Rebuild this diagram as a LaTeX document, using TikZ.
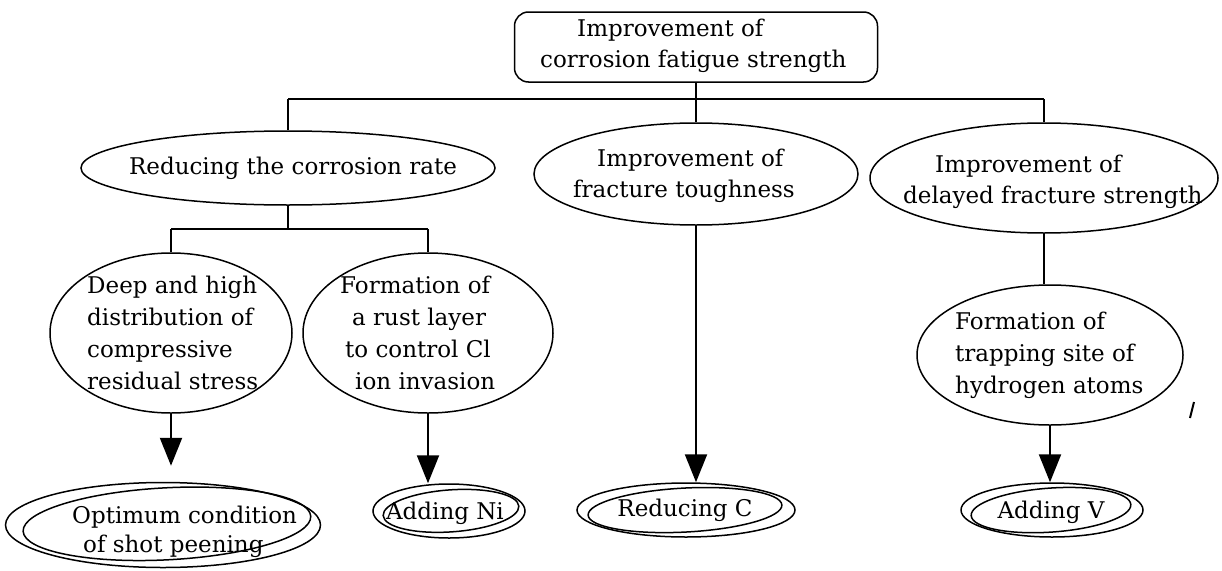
\documentclass[tikz,border=0pt]{standalone}
\usepackage{fontspec}
\setmainfont{DejaVu Serif}
\usetikzlibrary{arrows.meta,shapes.geometric,calc}
\newcommand\myinnerell[5]{%
  \draw[ln, rotate around={#5:(#1.center)}] ($(#1.center)+(#2)$) ellipse [x radius=#3pt, y radius=#4pt];}
\begin{document}
\begin{tikzpicture}[x=1pt,y=-1pt,
  every node/.style={font=\fontsize{23}{31}\selectfont},
  ln/.style={line width=1.5pt},
  ell/.style={draw, ellipse, line width=1.5pt, inner sep=0pt},
  txt/.style={inner sep=0pt, align=left, anchor=west},
  ctxt/.style={inner sep=0pt, align=center},
  conn/.style={line width=1.8pt},
  barline/.style={line width=2.5pt},
  arr/.style={line width=2.2pt, -{Triangle[length=28pt,width=22pt]}},
]
\useasboundingbox (0,0) rectangle (1222,570);

% top box
\node[draw, rounded corners=14pt, line width=1.5pt, minimum width=363pt, minimum height=70pt, inner sep=0pt] (T) at (696,47) {};
\node[txt] (Tt) at (540,46) {\hspace*{37pt}Improvement of\\corrosion fatigue strength};

% level 1
\node[ell, minimum width=414pt, minimum height=74pt] (A) at (288,168) {};
\node[ctxt] (At) at (293,168) {Reducing the corrosion rate};
\node[ell, minimum width=324pt, minimum height=102pt] (B) at (696,174) {};
\node[txt] (Bt) at (573,176) {\hspace*{24pt}Improvement of\\fracture toughness};
\node[ell, minimum width=348pt, minimum height=110pt] (C) at (1044,178) {};
\node[txt] (Ct) at (903,182) {\hspace*{32pt}Improvement of\\delayed fracture strength};

% level 2
\node[ell, minimum width=242pt, minimum height=160pt] (D) at (171,333) {};
\node[txt, font=\fontsize{23}{32}\selectfont] (Dt) at (87,333) {Deep and high\\distribution of\\compressive\\residual stress};
\node[ell, minimum width=250pt, minimum height=160pt] (E) at (428,333) {};
\node[txt, font=\fontsize{23}{32}\selectfont] (Et) at (340,333) {Formation of\\\hspace*{12pt}a rust layer\\\hspace*{5pt}to control Cl\\\hspace*{15pt}ion invasion};
\node[ell, minimum width=266pt, minimum height=140pt] (I) at (1050,355) {};
\node[txt, font=\fontsize{23}{32}\selectfont] (It) at (955,355) {Formation of\\trapping site of\\hydrogen atoms};

% bottom row (double ellipses)
\node[ell, minimum width=315pt, minimum height=85pt] (F) at (163,525) {};
\myinnerell{F}{4,-1}{144}{36}{3}
\node[txt, font=\fontsize{23}{29}\selectfont] (Ft) at (72,532) {Optimum condition\\\hspace*{11pt}of shot peening};
\node[ell, minimum width=152pt, minimum height=54pt] (G) at (449,511) {};
\myinnerell{G}{2,0}{68}{21}{4}
\node[ctxt] (Gt) at (445,513) {Adding Ni};
\node[ell, minimum width=218pt, minimum height=54pt] (H) at (686,510) {};
\myinnerell{H}{-1,0}{97}{22}{3}
\node[ctxt] (Ht) at (685,510) {Reducing C};
\node[ell, minimum width=182pt, minimum height=54pt] (J) at (1052,510) {};
\myinnerell{J}{-1,0}{80}{22}{4}
\node[ctxt] (Jt) at (1051,512) {Adding V};

% connectors
\coordinate (bar1) at (0,99);
\coordinate (bar2) at (0,229);
\draw[conn] (T.south) -- (T.south |- bar1);
\draw[barline] (A.north |- bar1) -- (C.north |- bar1);
\draw[conn] (A.north |- bar1) -- (A.north);
\draw[conn] (B.north |- bar1) -- (B.north);
\draw[conn] (C.north |- bar1) -- (C.north);

\draw[conn] (A.south) -- (A.south |- bar2);
\draw[barline] (D.north |- bar2) -- (E.north |- bar2);
\draw[conn] (D.north |- bar2) -- (D.north);
\draw[conn] (E.north |- bar2) -- (E.north);

\draw[conn] (C.south) -- (C.south |- I.north);

\draw[arr, shorten >=16pt] (D.south) -- (D.south |- F.north);
\draw[arr] (E.south) -- (E.south |- G.north);
\draw[arr] (B.south) -- (B.south |- H.north);
\draw[arr] (I.south) -- (I.south |- J.north);

% stray mark
\draw[line width=2pt] (1190,418) -- (1194,402);
\end{tikzpicture}
\end{document}
